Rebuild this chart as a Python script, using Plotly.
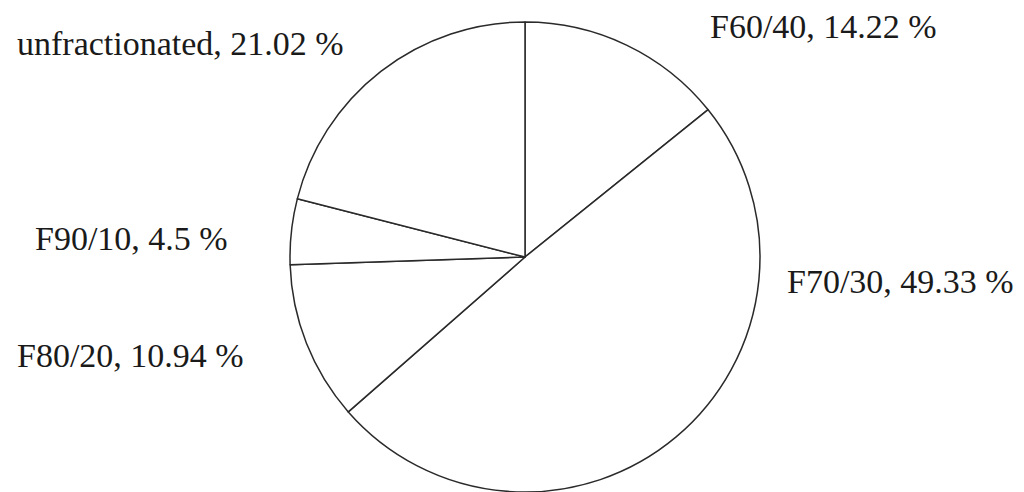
import plotly.graph_objects as go

# Share of each fraction, clockwise from 12 o'clock
fractions = ["F60/40", "F70/30", "F80/20", "F90/10", "unfractionated"]
shares = [14.22, 49.33, 10.94, 4.5, 21.02]

# Label anchor points (left edge x, vertical middle y) in pixels of a 1024x492 canvas
label_x_px = [708, 785, 15, 33, 15]
label_y_px = [26, 281, 355, 238, 43]

W, H = 1024, 492
FONT = "Liberation Serif, Times New Roman, serif"

fig = go.Figure(
    go.Pie(
        labels=fractions,
        values=shares,
        sort=False,
        direction="clockwise",
        rotation=0,
        textinfo="none",
        hoverinfo="label+percent",
        marker=dict(colors=["white"] * len(shares),
                    line=dict(color="#2a2a2a", width=1.5)),
        domain=dict(x=[289 / W, 761 / W], y=[0.0, 470 / H]),
        showlegend=False,
    )
)

for name, val, px, py in zip(fractions, shares, label_x_px, label_y_px):
    fig.add_annotation(
        text=f"{name}, {val:g} %",
        x=px / W, y=1 - py / H,
        xref="paper", yref="paper",
        xanchor="left", yanchor="middle",
        showarrow=False,
        font=dict(family=FONT, size=34, color="#1a1a1a"),
    )

fig.update_layout(
    width=W, height=H,
    margin=dict(l=0, r=0, t=0, b=0),
    paper_bgcolor="white",
    plot_bgcolor="white",
)

fig.write_html("out.html")
